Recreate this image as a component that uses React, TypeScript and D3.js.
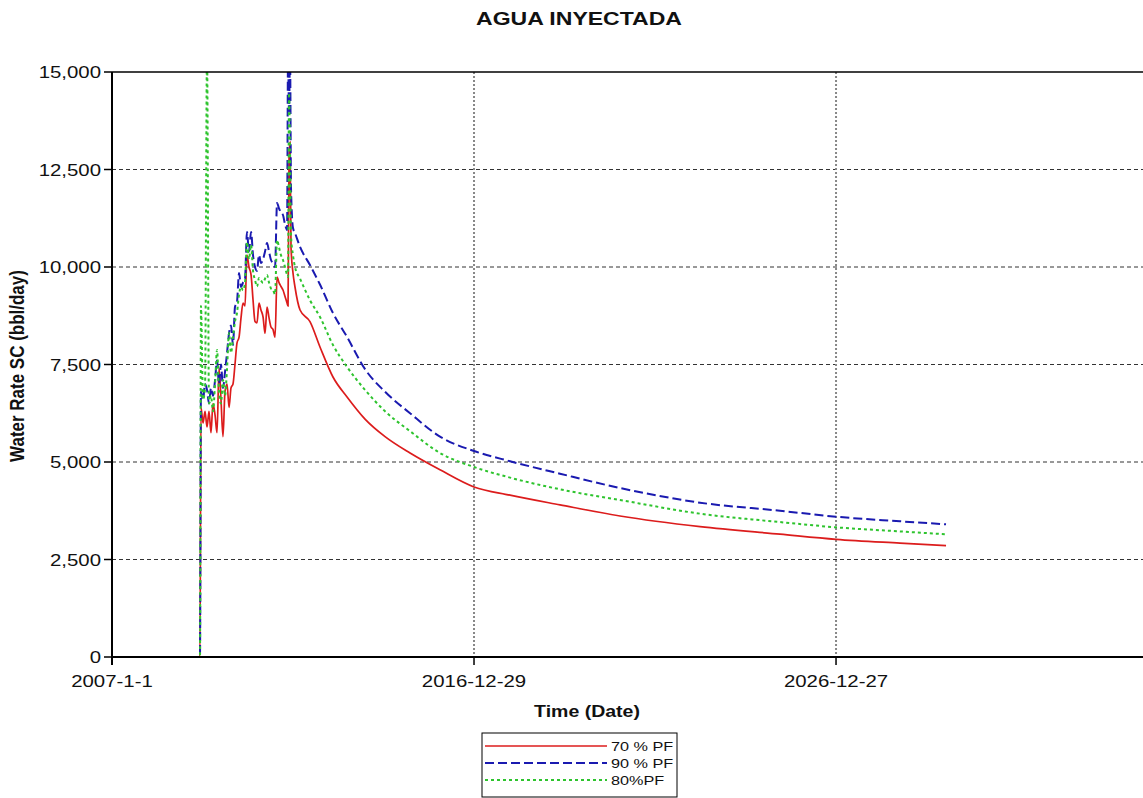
import React from 'react';
import * as d3 from 'd3';

// sample dates shared by the three cases
const dates = [
  '2007-01-01', '2009-06-06', '2009-06-16', '2009-07-07', '2009-07-27', '2009-08-16',
  '2009-09-05', '2009-09-25', '2009-10-15', '2009-11-05', '2009-11-25', '2009-12-15',
  '2010-01-04', '2010-01-24', '2010-02-13', '2010-03-06', '2010-03-26', '2010-04-15',
  '2010-05-05', '2010-05-25', '2010-06-14', '2010-07-05', '2010-07-25', '2010-08-14',
  '2010-09-03', '2010-09-23', '2010-10-13', '2010-11-03', '2010-11-23', '2010-12-13',
  '2011-01-02', '2011-01-22', '2011-02-11', '2011-03-04', '2011-03-24', '2011-04-13',
  '2011-05-03', '2011-05-23', '2011-06-12', '2011-07-03', '2011-07-23', '2011-08-12',
  '2011-09-01', '2011-09-21', '2011-10-11', '2011-11-01', '2011-11-11', '2011-11-21',
  '2011-12-01', '2011-12-11', '2011-12-31', '2012-01-20', '2012-03-11', '2012-06-19',
  '2012-09-28', '2013-02-06', '2013-06-28', '2013-12-26', '2014-07-16', '2015-03-25',
  '2016-01-21', '2016-12-29', '2017-12-27', '2019-05-15', '2021-01-09', '2023-03-27',
  '2025-06-10', '2026-12-27', '2028-10-02', '2030-01-09',
];

const rate70 = [
  0, 0, 6400, 6000, 6300, 5900,
  6300, 5750, 6500, 6200, 5750, 7400,
  6600, 5650, 6800, 7000, 6400, 6900,
  7000, 7500, 8050, 8200, 8700, 9077,
  9000, 10308, 10000, 9800, 9154, 8600,
  8564, 9077, 8900, 8718, 8300, 8974,
  8700, 8462, 8400, 8200, 9744, 9600,
  9500, 9410, 9250, 9077, 9000, 12800,
  13200, 10500, 9846, 9487, 8897, 8600,
  7950, 7179, 6667, 6100, 5650, 5230,
  4800, 4359, 4150, 3900, 3615, 3342,
  3150, 3018, 2920, 2855,
];

const rate90 = [
  0, 0, 6800, 6600, 7000, 6850,
  6500, 6900, 6700, 7100, 7600, 7000,
  7500, 6900, 7300, 7800, 8300, 8500,
  8000, 8974, 9100, 9846, 9487, 9600,
  9700, 10897, 10400, 10897, 10300, 10000,
  9900, 10308, 10103, 10200, 10400, 10615,
  10400, 10179, 10100, 10000, 11641, 11500,
  11400, 11333, 11100, 10949, 15500, 14000,
  15500, 12000, 11000, 10872, 10513, 10051,
  9550, 8820, 8205, 7380, 6800, 6250,
  5650, 5282, 5020, 4700, 4333, 3957,
  3750, 3597, 3480, 3402,
];

const rate80 = [
  0, 0, 9000, 6600, 6900, 15500,
  6500, 6700, 6300, 7000, 7872, 6800,
  6500, 7100, 6700, 7400, 8308, 7800,
  8200, 8600, 8820, 9300, 9487, 9400,
  9600, 10641, 10200, 10564, 9900, 9667,
  9500, 9718, 9650, 9590, 9700, 9795,
  9600, 9450, 9410, 9300, 10692, 10500,
  10300, 10180, 10000, 9800, 9744, 14462,
  13000, 10800, 10300, 10000, 9700, 9150,
  8718, 8000, 7436, 6850, 6300, 5790,
  5231, 4872, 4600, 4300, 4026, 3675,
  3460, 3325, 3220, 3146,
];

const seriesNames = ['70 % PF', '90 % PF', '80%PF'];
const seriesColors = ['#dc1c1c', '#1a1ab0', '#2ec42e'];
const seriesDash = ['none', '9,4', '3,3'];

const xDomain = ['2007-01-01', '2035-06-18'];
const xTickDates = ['2007-01-01', '2016-12-29', '2026-12-27'];
const xTickLabels = ['2007-1-1', '2016-12-29', '2026-12-27'];
const yTicks = [0, 2500, 5000, 7500, 10000, 12500, 15000];

const W = 1143;
const H = 798;
const m = { left: 112, top: 72, right: 1143, bottom: 657 };
const font = '"Liberation Sans", Arial, sans-serif';

export default function App() {
  const parse = d3.utcParse('%Y-%m-%d');
  const x = d3.scaleUtc()
    .domain(xDomain.map(d => parse(d)!))
    .range([m.left, m.right]);
  const y = d3.scaleLinear().domain([0, 15000]).range([m.bottom, m.top]);
  const fmt = d3.format(',');

  const line = d3.line<[Date, number]>()
    .x(d => x(d[0]))
    .y(d => y(d[1]))
    .curve(d3.curveMonotoneX);

  const allRates = [rate70, rate90, rate80];
  const series = seriesNames.map((name, i) => ({
    name,
    color: seriesColors[i],
    dash: seriesDash[i],
    points: dates.map((d, j) => [parse(d)!, allRates[i][j]] as [Date, number]),
  }));

  return (
    <div style={{ position: 'absolute', left: 0, top: 0 }}>
      <svg width={W} height={H} style={{ display: 'block', background: '#fff' }} fontFamily={font}>
        <defs>
          <clipPath id="plot">
            <rect x={m.left} y={m.top} width={m.right - m.left} height={m.bottom - m.top} />
          </clipPath>
        </defs>

        {/* title */}
        <text transform={`translate(579,25) scale(1.28,1)`} textAnchor="middle"
          fontSize={18} fontWeight="bold" fill="#111">AGUA INYECTADA</text>

        {/* horizontal grid */}
        {yTicks.filter(t => t > 0 && t < 15000).map(t => (
          <line key={'hg' + t} x1={m.left} x2={m.right} y1={y(t)} y2={y(t)}
            stroke="#333" strokeWidth={1} strokeDasharray="4,3" />
        ))}
        {/* vertical grid */}
        {xTickDates.slice(1).map(d => (
          <line key={'vg' + d} x1={x(parse(d)!)} x2={x(parse(d)!)} y1={m.top} y2={m.bottom}
            stroke="#888" strokeWidth={2} strokeDasharray="2,2" />
        ))}

        {/* series: red, blue, green on top */}
        <g clipPath="url(#plot)">
          {series.map((s, i) => (
            <path key={s.name} d={line(s.points) || ''} fill="none"
              stroke={s.color} strokeWidth={i === 0 ? 1.7 : 2}
              strokeDasharray={s.dash === 'none' ? undefined : s.dash} />
          ))}
        </g>

        {/* frame / axes */}
        <line x1={m.left} x2={m.right} y1={m.top} y2={m.top} stroke="#000" strokeWidth={1.5} />
        <line x1={m.left} x2={m.left} y1={m.top} y2={m.bottom + 8} stroke="#000" strokeWidth={2} />
        <line x1={m.left} x2={m.right} y1={m.bottom} y2={m.bottom} stroke="#000" strokeWidth={2} />

        {/* y ticks */}
        {yTicks.map(t => (
          <g key={'yt' + t}>
            <line x1={m.left - 8} x2={m.left} y1={y(t)} y2={y(t)} stroke="#000" strokeWidth={1.5} />
            <text transform={`translate(${m.left - 11},${y(t) + 6}) scale(1.2,1)`} textAnchor="end"
              fontSize={17} fill="#111">{fmt(t)}</text>
          </g>
        ))}

        {/* x ticks */}
        {xTickDates.map((d, i) => {
          const xp = x(parse(d)!);
          return (
            <g key={'xt' + d}>
              <line x1={xp} x2={xp} y1={m.bottom} y2={m.bottom + 8} stroke="#000" strokeWidth={1.5} />
              <text transform={`translate(${xp},687) scale(1.2,1)`} textAnchor="middle"
                fontSize={17} fill="#111">{xTickLabels[i]}</text>
            </g>
          );
        })}

        {/* axis titles */}
        <text transform={`translate(587,717) scale(1.22,1)`} textAnchor="middle"
          fontSize={16} fontWeight="bold" fill="#111">Time (Date)</text>
        <text transform={`translate(24,366) rotate(-90) scale(1,1.15)`} textAnchor="middle"
          fontSize={17} fontWeight="bold" fill="#111">Water Rate SC (bbl/day)</text>

        {/* legend */}
        <rect x={482} y={733} width={195} height={64} fill="#fff" stroke="#000" strokeWidth={1} />
        {series.map((s, i) => {
          const ly = 746 + i * 17;
          return (
            <g key={'lg' + s.name}>
              <line x1={485} x2={607} y1={ly} y2={ly} stroke={s.color} strokeWidth={i === 0 ? 1.7 : 2}
                strokeDasharray={s.dash === 'none' ? undefined : s.dash} />
              <text transform={`translate(611,${ly + 5}) scale(1.3,1)`} fontSize={12.5} fill="#111">{s.name}</text>
            </g>
          );
        })}
      </svg>
    </div>
  );
}
